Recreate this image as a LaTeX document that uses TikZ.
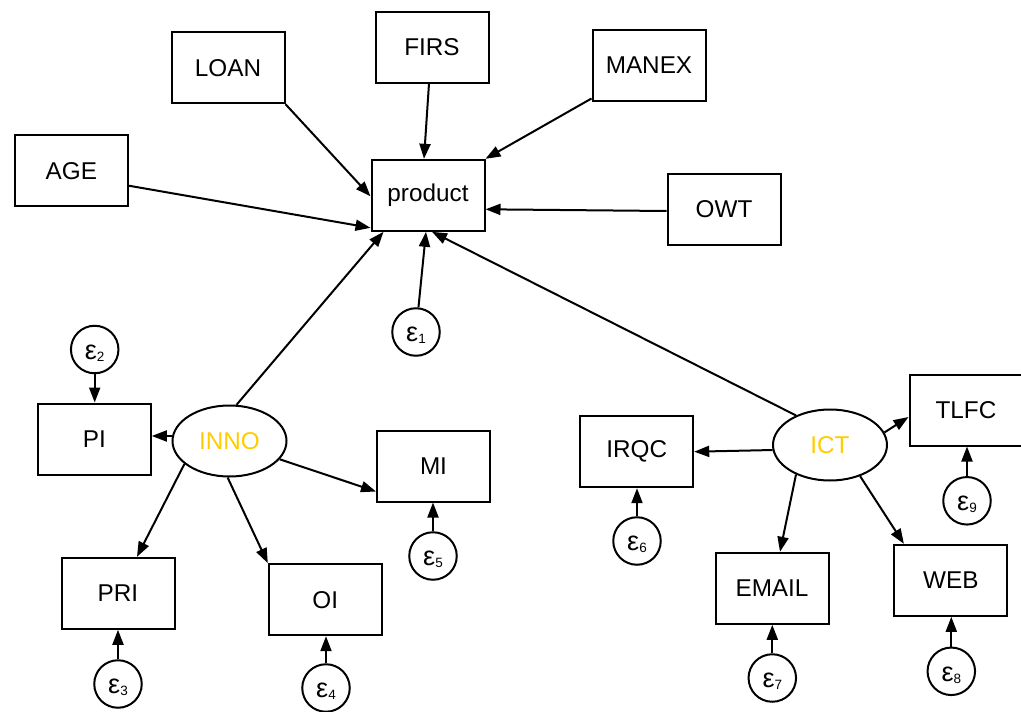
\documentclass[tikz,border=0pt]{standalone}
\usepackage{fontspec}
\setmainfont{Liberation Sans}
\usetikzlibrary{arrows.meta,shapes.geometric,calc}
\definecolor{latgold}{RGB}{255,204,0}
% error term label: epsilon with a lowered index
\newcommand\errlabel[1]{{\fontsize{27}{27}\selectfont ε}\raisebox{-2pt}{\fontsize{13.5}{13.5}\selectfont #1}}

\begin{document}
\begin{tikzpicture}[x=1pt,y=-1pt,
  every node/.style={font=\fontsize{24.3}{28}\selectfont},
  obs/.style={draw, line width=2pt, minimum width=113pt, minimum height=71pt, inner sep=0pt},
  lat/.style={draw, ellipse, line width=2pt, minimum width=114pt, minimum height=71pt, inner sep=0pt, text=latgold},
  err/.style={draw, circle, line width=2pt, minimum size=47.5pt, inner sep=0pt, text height=19.6pt, text depth=0pt},
  conn/.style={line width=2pt, -{Triangle[length=15pt,width=11pt]}},
]
\useasboundingbox (0,0) rectangle (1021,712);

% structural part
\node[obs] (age) at (71.3,170.7) {AGE};
\node[obs] (loan) at (228,67.7) {LOAN};
\node[obs] (firs) at (432,47) {FIRS};
\node[obs] (manex) at (649,65) {MANEX};
\node[obs] (product) at (428,195.3) {product};
\node[obs] (owt) at (724,209.5) {OWT};
\node[err] (e1) at (416,332) {\errlabel{1}};

% innovation block
\node[err] (e2) at (94.7,349.5) {\errlabel{2}};
\node[obs] (pi) at (94.3,439) {PI};
\node[lat] (inno) at (229.5,441) {INNO};
\node[obs] (mi) at (433.5,466) {MI};
\node[err] (e5) at (433,556) {\errlabel{5}};
\node[obs] (pri) at (118,593.3) {PRI};
\node[err] (e3) at (118,684) {\errlabel{3}};
\node[obs] (oi) at (325.3,599.7) {OI};
\node[err] (e4) at (326,688) {\errlabel{4}};

% ICT block
\node[obs] (irqc) at (636.7,451.7) {IRQC};
\node[err] (e6) at (637,541) {\errlabel{6}};
\node[lat] (ict) at (830,445) {ICT};
\node[obs] (tlfc) at (966,410) {TLFC};
\node[err] (e9) at (967,500.8) {\errlabel{9}};
\node[obs] (email) at (772,588.3) {EMAIL};
\node[err] (e7) at (772.3,678) {\errlabel{7}};
\node[obs] (web) at (950.8,580.3) {WEB};
\node[err] (e8) at (951.3,671.3) {\errlabel{8}};

% paths into product
\draw[conn] (loan.south east) -- ($(product.west)+(0,1)$);
\draw[conn] ($(firs.south)+(-3,0)$) -- ($(product.north)+(-4,0)$);
\draw[conn] ($(manex.south west)+(0,-3)$) -- (product.north east);
\draw[conn] ($(age.east)+(0,15)$) -- ($(product.south west)+(0,-4)$);
\draw[conn] ($(owt.west)+(0,1.5)$) -- ($(product.east)+(0,14)$);
\draw[conn] (e1) -- ($(product.south)+(-2,0)$);
\draw[conn] (inno.79) -- ($(product.south west)+(13,0)$);
\draw[conn] (ict.139) -- ($(product.south)+(4,0)$);

% measurement of INNO
\draw[conn] (inno.175) -- (inno.175 -| pi.east);
\draw[conn] (inno.207) -- ($(pri.north)+(19,0)$);
\draw[conn] (inno.267) -- (oi.north west);
\draw[conn] (inno.340) -- ($(mi.south west)+(0,-11)$);
\draw[conn] (e2) -- (e2 |- pi.north);
\draw[conn] (e3) -- (e3 |- pri.south);
\draw[conn] (e4) -- (e4 |- oi.south);
\draw[conn] (e5) -- (e5 |- mi.south);

% measurement of ICT
\draw[conn] (ict.185) -- (irqc.east);
\draw[conn] (ict.13) -- ($(tlfc.west)+(0,7)$);
\draw[conn] (ict.221) -- ($(email.north)+(8,0)$);
\draw[conn] (ict.314) -- ($(web.north west)+(10.6,0)$);
\draw[conn] (e6) -- (e6 |- irqc.south);
\draw[conn] (e7) -- (e7 |- email.south);
\draw[conn] (e8) -- (e8 |- web.south);
\draw[conn] (e9) -- (e9 |- tlfc.south);
\end{tikzpicture}
\end{document}
